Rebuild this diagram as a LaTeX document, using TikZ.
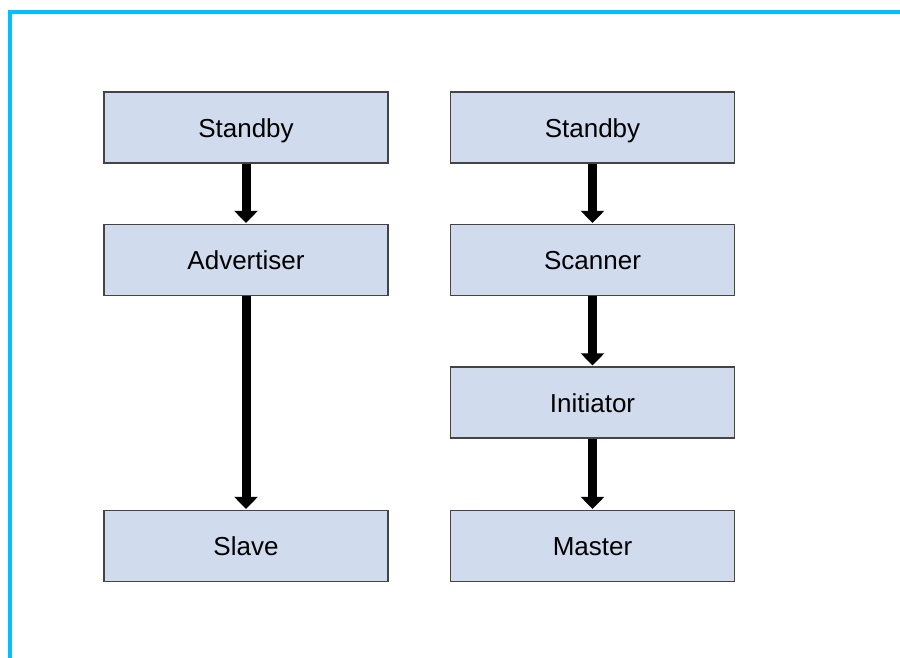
\documentclass[tikz,border=0pt]{standalone}
\usepackage{fontspec}
\setmainfont{Liberation Sans}
\usetikzlibrary{arrows.meta}
\definecolor{framecyan}{RGB}{0,192,252}
\definecolor{boxfill}{RGB}{208,219,237}
\definecolor{boxline}{RGB}{68,68,68}
\tikzset{
  statebox/.style={draw=boxline, line width=1.3pt, fill=boxfill,
    minimum width=284pt, minimum height=71pt, inner sep=0pt,
    text height=24pt, text depth=5pt,
    font=\fontsize{26}{30}\selectfont},
  flow/.style={line width=9pt, -{Triangle[width=23pt,length=12pt]}, shorten >=1pt}
}
\begin{document}
\begin{tikzpicture}[x=1pt,y=-1pt]
  \useasboundingbox (0,0) rectangle (900,657);
  % frame edges
  \draw[framecyan, line width=4.5pt] (10,660) -- (10,12) -- (903,12);

  % slave path
  \node[statebox] (sl1) at (246,127.5) {Standby};
  \node[statebox] (sl2) at (246,260) {Advertiser};
  \node[statebox] (sl3) at (246,546) {Slave};

  % master path
  \node[statebox] (ms1) at (592.5,127.5) {Standby};
  \node[statebox] (ms2) at (592.5,260) {Scanner};
  \node[statebox] (ms3) at (592.5,402.5) {Initiator};
  \node[statebox] (ms4) at (592.5,546) {Master};

  \draw[flow] (sl1) -- (sl2);
  \draw[flow] (sl2) -- (sl3);
  \draw[flow] (ms1) -- (ms2);
  \draw[flow] (ms2) -- (ms3);
  \draw[flow] (ms3) -- (ms4);
\end{tikzpicture}
\end{document}
